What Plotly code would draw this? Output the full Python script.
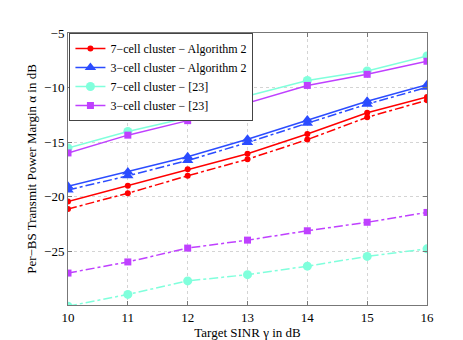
import plotly.graph_objects as go

# target SINR values (dB)
sinr = [10, 11, 12, 13, 14, 15, 16]

# per-BS transmit power margin (dB)
alg2_7cell = [-20.45, -19.0, -17.5, -16.07, -14.27, -12.31, -10.87]
alg2_7cell_dd = [-21.14, -19.7, -18.1, -16.58, -14.78, -12.73, -11.17]
alg2_3cell = [-19.06, -17.74, -16.35, -14.75, -12.97, -11.26, -9.75]
alg2_3cell_dd = [-19.4, -18.1, -16.7, -15.05, -13.27, -11.53, -9.98]
ref_7cell = [-15.54, -14.03, -12.77, -10.78, -9.36, -8.49, -7.1]
ref_3cell = [-16.0, -14.37, -13.04, -11.44, -9.81, -8.79, -7.59]
ref_3cell_dd = [-27.02, -26.0, -24.73, -24.0, -23.14, -22.36, -21.46]
ref_7cell_dd = [-30.06, -28.98, -27.74, -27.17, -26.39, -25.49, -24.8]

RED = '#ff0000'
BLUE = '#2b4cff'
CYAN = '#80ffdc'
MAGENTA = '#bf40ff'

fig = go.Figure()

def add(y, name, color, symbol, size, dash, legend):
    fig.add_trace(go.Scatter(
        x=sinr, y=y, name=name, mode='lines+markers',
        line=dict(color=color, width=1.5, dash=dash),
        marker=dict(color=color, symbol=symbol, size=size),
        showlegend=legend))

add(alg2_7cell, '7\u2212cell cluster \u2212 Algorithm 2', RED, 'circle', 6, 'solid', True)
add(alg2_3cell, '3\u2212cell cluster \u2212 Algorithm 2', BLUE, 'triangle-up', 10, 'solid', True)
add(ref_7cell, '7\u2212cell cluster \u2212 [23]', CYAN, 'circle', 9, 'solid', True)
add(ref_3cell, '3\u2212cell cluster \u2212 [23]', MAGENTA, 'square', 7, 'solid', True)
add(alg2_7cell_dd, '', RED, 'circle', 6, 'dashdot', False)
add(alg2_3cell_dd, '', BLUE, 'triangle-up', 10, 'dashdot', False)
add(ref_3cell_dd, '', MAGENTA, 'square', 7, 'dashdot', False)
add(ref_7cell_dd, '', CYAN, 'circle', 9, 'dashdot', False)

axis_style = dict(showline=True, linecolor='#777777', linewidth=1, mirror='ticks',
                  ticks='inside', ticklen=4, tickcolor='#777777',
                  showgrid=True, gridcolor='#d4d4d4', griddash='dot', gridwidth=1,
                  zeroline=False, tickfont=dict(size=13, color='black'))

fig.update_xaxes(range=[10, 16], tickvals=sinr,
                 title=dict(text='Target SINR \u03b3 in dB', font=dict(size=13), standoff=2),
                 **axis_style)
fig.update_yaxes(range=[-29.95, -5], tickvals=[-25, -20, -15, -10, -5],
                 ticktext=['\u221225', '\u221220', '\u221215', '\u221210', '\u22125'],
                 title=dict(text='Per\u2212BS Transmit Power Margin \u03b1 in dB', font=dict(size=13), standoff=4),
                 **axis_style)

fig.update_layout(
    width=463, height=340,
    margin=dict(l=60, r=44, t=25, b=38),
    plot_bgcolor='white', paper_bgcolor='white',
    font=dict(family='Liberation Serif', color='black', size=13),
    legend=dict(x=0.004, y=1, xanchor='left', yanchor='top',
                bgcolor='white', bordercolor='#444444', borderwidth=1,
                font=dict(size=12), tracegroupgap=0, itemwidth=30),
)

fig.write_html("out.html")
